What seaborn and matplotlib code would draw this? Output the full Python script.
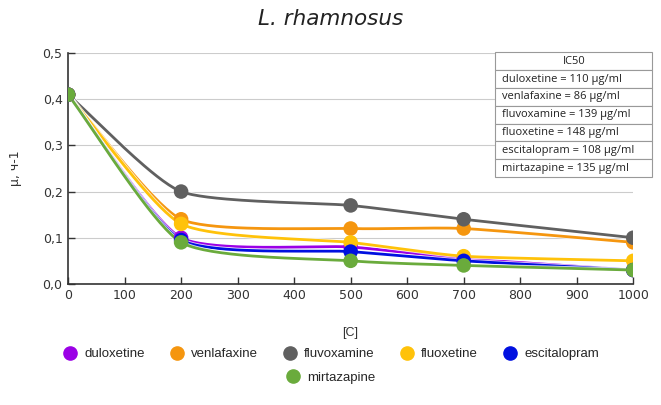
import numpy as np
import pandas as pd
import matplotlib
matplotlib.use("Agg")
import matplotlib.pyplot as plt
import seaborn as sns
from matplotlib.lines import Line2D
import matplotlib.patheffects as pe

conc = [0, 200, 500, 700, 1000]
duloxetine = [0.41, 0.10, 0.08, 0.055, 0.03]
venlafaxine = [0.41, 0.14, 0.12, 0.12, 0.09]
fluvoxamine = [0.41, 0.20, 0.17, 0.14, 0.10]
fluoxetine = [0.41, 0.13, 0.09, 0.06, 0.05]
escitalopram = [0.41, 0.095, 0.07, 0.05, 0.03]
mirtazapine = [0.41, 0.09, 0.05, 0.04, 0.03]
drugs = ["duloxetine", "venlafaxine", "fluvoxamine", "fluoxetine", "escitalopram", "mirtazapine"]
series = [duloxetine, venlafaxine, fluvoxamine, fluoxetine, escitalopram, mirtazapine]
colors = ["#9b00e6", "#f5960f", "#606060", "#ffc20a", "#0010e0", "#6aab3c"]
ic50 = ["110", "86", "139", "148", "108", "135"]
yticks = [0.0, 0.1, 0.2, 0.3, 0.4, 0.5]
ytick_labels = ["0,0", "0,1", "0,2", "0,3", "0,4", "0,5"]
xticks = [0, 100, 200, 300, 400, 500, 600, 700, 800, 900, 1000]

rows = []
for d, vals in zip(drugs, series):
    for c, v in zip(conc, vals):
        rows.append({"drug": d, "conc": c, "mu": v})
df = pd.DataFrame(rows)


def smooth(xs, ys, n=40, k=0.6):
    # cardinal-spline rendering of the line through the data points
    xs = np.asarray(xs, float); ys = np.asarray(ys, float)
    P = np.column_stack([xs, ys])
    m = np.zeros_like(P)
    m[1:-1] = (P[2:] - P[:-2]) / 2 * k
    m[0] = (P[1] - P[0]) * k
    m[-1] = (P[-1] - P[-2]) * k
    t = np.linspace(0, 1, n)[:, None]
    h00 = 2 * t**3 - 3 * t**2 + 1
    h10 = t**3 - 2 * t**2 + t
    h01 = -2 * t**3 + 3 * t**2
    h11 = t**3 - t**2
    out = []
    for i in range(len(P) - 1):
        seg = h00 * P[i] + h10 * m[i] + h01 * P[i + 1] + h11 * m[i + 1]
        out.append(seg if i == 0 else seg[1:])
    out = np.vstack(out)
    return out[:, 0], out[:, 1]


sns.set_theme(style="white")
plt.rcParams['font.family'] = ['DejaVu Sans']
fig = plt.figure(figsize=(6.61, 4.05), dpi=100)
ax = fig.add_axes([0.103, 0.299, 0.855, 0.570])

for d, c in zip(drugs, colors):
    sub = df[df.drug == d]
    sx, sy = smooth(sub.conc, sub.mu)
    sns.lineplot(x=sx, y=sy, ax=ax, color=c, lw=2, sort=False, estimator=None,
                 path_effects=[pe.Stroke(linewidth=3.2, foreground="white", alpha=0.8), pe.Normal()])
for d, c in zip(drugs, colors):
    sub = df[df.drug == d]
    sns.scatterplot(data=sub, x="conc", y="mu", ax=ax, color=c, s=110, edgecolor="none", zorder=5, legend=False)

ax.set_xlim(0, 1000)
ax.set_ylim(0, 0.5)
ax.set_xticks(xticks)
ax.set_yticks(yticks)
ax.set_yticklabels(ytick_labels)
ax.tick_params(direction="in", length=5, width=1, colors="#333333", labelsize=9, labelcolor="#333333", pad=4)
ax.tick_params(axis="x", bottom=True)
ax.tick_params(axis="y", left=True)
ax.grid(axis="y", color="#cccccc", lw=0.8)
ax.grid(axis="x", visible=False)
for s in ["top", "right"]:
    ax.spines[s].set_visible(False)
for s in ["left", "bottom"]:
    ax.spines[s].set_color("#333333")
    ax.spines[s].set_linewidth(1.2)
ax.set_xlabel("")
ax.set_ylabel("")

fig.text(0.5, 0.952, "L. rhamnosus", ha="center", va="center", fontsize=15.5, style="italic", color="#222222")
fig.text(0.024, 0.585, "μ, ч-1", rotation=90, ha="center", va="center", fontsize=9, color="#333333")
fig.text(0.53, 0.178, "[C]", ha="center", va="center", fontsize=9, color="#333333",
         family=["Liberation Sans", "DejaVu Sans"])

# IC50 table
tab_rows = [["IC50"]] + [[f"{d} = {v} µg/ml"] for d, v in zip(drugs, ic50)]
tbl = ax.table(cellText=tab_rows, cellLoc="left",
               bbox=[0.756, 0.463, 0.278, 0.54], transform=ax.transAxes)
tbl.auto_set_font_size(False)
for (r, c), cell in tbl.get_celld().items():
    cell.set_edgecolor("#999999")
    cell.set_linewidth(0.8)
    cell.set_facecolor("white")
    cell.PAD = 0.04
    cell.get_text().set_fontsize(8)
    cell.get_text().set_color("#222222")
    cell.get_text().set_family(["Open Sans", "DejaVu Sans"])
    if r == 0:
        cell.get_text().set_ha("center")
        cell._loc = "center"
tbl.set_zorder(10)
tbl.set_clip_on(False)
for cell in tbl.get_celld().values():
    cell.set_clip_on(False)

handles = [Line2D([], [], marker="o", ls="none", color=c, markersize=9.5) for c in colors]
lfont = {"family": ["Liberation Sans", "DejaVu Sans"], "size": 9.5}
fig.legend(handles[:5], drugs[:5], loc="center", bbox_to_anchor=(0.5, 0.125), ncol=5,
           frameon=False, prop=lfont, handletextpad=0.5, columnspacing=1.8, handlelength=1.2)
fig.legend(handles[5:], drugs[5:], loc="center", bbox_to_anchor=(0.5, 0.068), ncol=1,
           frameon=False, prop=lfont, handletextpad=0.5, handlelength=1.2)

fig.savefig("out.png", dpi=100)
